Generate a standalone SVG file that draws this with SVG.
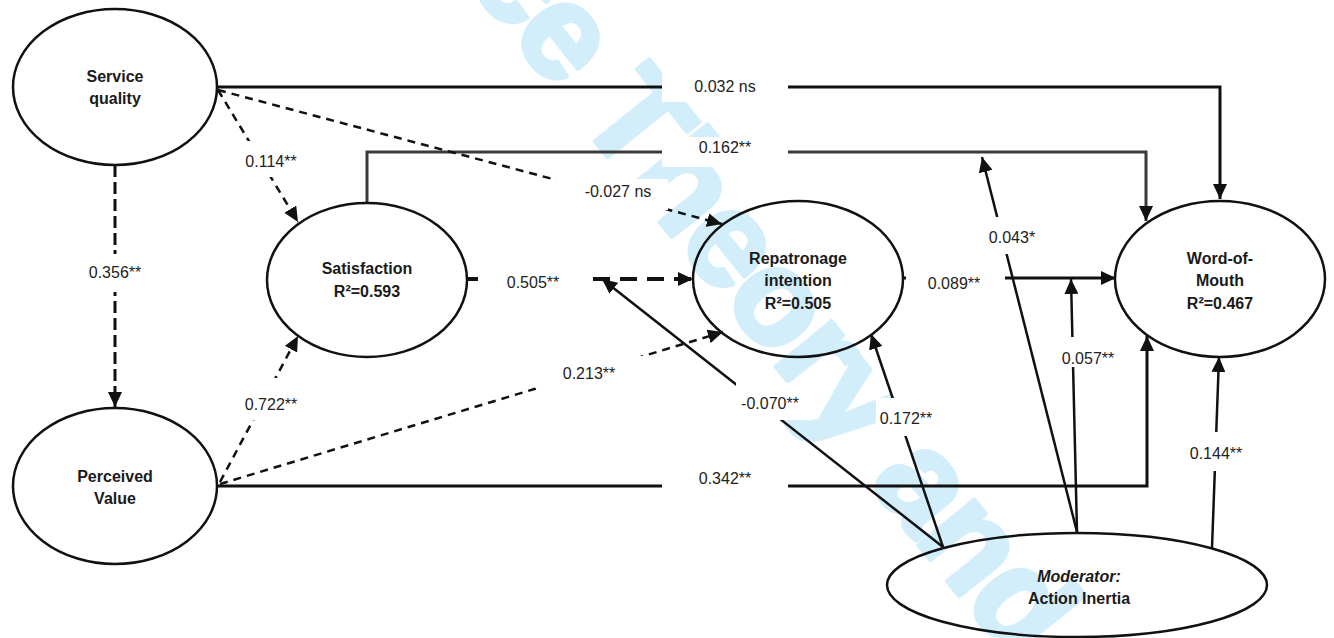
<svg xmlns="http://www.w3.org/2000/svg" width="1334" height="638" viewBox="0 0 1334 638">
<defs>
<style>
.wm{font-family:"Liberation Sans",Arial,sans-serif;font-weight:bold;font-size:135px;letter-spacing:-2.9px;fill:#d3eefb;stroke:#d3eefb;stroke-width:5;stroke-linejoin:round}
.node{fill:none;stroke:#111;stroke-width:2.5}
.nt{font-family:"Liberation Sans",Arial,sans-serif;font-size:16px;font-weight:bold;fill:#1a1a1a;text-anchor:middle}
.lb{font-family:"Liberation Sans",Arial,sans-serif;font-size:16px;fill:#222;text-anchor:middle}
.solid{fill:none;stroke:#111;stroke-width:3}
.gray{fill:none;stroke:#3a3a3a;stroke-width:3}
.mod{fill:none;stroke:#111;stroke-width:2.5}
.dsh{fill:none;stroke:#111;stroke-width:2.5;stroke-dasharray:8 6}
.dshv{fill:none;stroke:#111;stroke-width:3;stroke-dasharray:12 5}
.dshb{fill:none;stroke:#111;stroke-width:4;stroke-dasharray:17 10}
.box{fill:#fff;stroke:none}
</style>
<marker id="ah" markerUnits="userSpaceOnUse" markerWidth="16" markerHeight="14" refX="15" refY="7" orient="auto">
<path d="M0,0 L15,7 L0,14 z" fill="#111"/>
</marker>
</defs>

<text class="wm" transform="translate(-145,-783) rotate(51.3)">Journal of Service Theory and Practice</text>

<g id="connectors">
<path class="solid" d="M217,87 H1220 V199" marker-end="url(#ah)"/>
<path class="gray" d="M367,204 V152 H1146 V221" marker-end="url(#ah)"/>
<path class="dsh" d="M218,90 L298,222" marker-end="url(#ah)"/>
<path class="dsh" d="M218,90 L722,224" marker-end="url(#ah)"/>
<path class="dshv" d="M115,165 V407" marker-end="url(#ah)"/>
<path class="dsh" d="M220,482 L298,336" marker-end="url(#ah)"/>
<path class="dsh" d="M220,484 L723,332" marker-end="url(#ah)"/>
<path class="solid" d="M217,486 H1147 V336" marker-end="url(#ah)"/>
<path class="dshb" d="M467,279 H478 M593,279 H693" marker-end="url(#ah)"/>
<path class="solid" d="M903,278 H1116" marker-end="url(#ah)"/>
<path class="mod" d="M943,547 L602,279" marker-end="url(#ah)"/>
<path class="mod" d="M943,547 L871,334" marker-end="url(#ah)"/>
<path class="mod" d="M1077,532 L982,157" marker-end="url(#ah)"/>
<path class="mod" d="M1077,532 L1071,279" marker-end="url(#ah)"/>
<path class="mod" d="M1212,548 L1219,357" marker-end="url(#ah)"/>
<rect class="box" x="662" y="72" width="126" height="30"/>
<rect class="box" x="662" y="137" width="126" height="30"/>
<rect class="box" x="662" y="470" width="126" height="30"/>
<rect class="box" x="553" y="179" width="115" height="31"/>
<rect class="box" x="535" y="356" width="117" height="32"/>
<rect class="box" x="479" y="264" width="113" height="30"/>
<rect class="box" x="906" y="264" width="99" height="30"/>
<rect class="box" x="240" y="141" width="62" height="36"/>
<rect class="box" x="240" y="378" width="62" height="42"/>
<rect class="box" x="85" y="254" width="60" height="38"/>
<rect class="box" x="736" y="383" width="69" height="37"/>
<rect class="box" x="876" y="398" width="61" height="38"/>
<rect class="box" x="985" y="217" width="55" height="37"/>
<rect class="box" x="1058" y="337" width="61" height="30"/>
<rect class="box" x="1185" y="432" width="62" height="39"/>
<text class="lb" x="725" y="92">0.032 ns</text>
<text class="lb" x="725" y="153">0.162**</text>
<text class="lb" x="725" y="484">0.342**</text>
<text class="lb" x="618" y="197">-0.027 ns</text>
<text class="lb" x="589" y="379">0.213**</text>
<text class="lb" x="533" y="288">0.505**</text>
<text class="lb" x="954" y="289">0.089**</text>
<text class="lb" x="271" y="167">0.114**</text>
<text class="lb" x="271" y="410">0.722**</text>
<text class="lb" x="115" y="278">0.356**</text>
<text class="lb" x="770" y="409">-0.070**</text>
<text class="lb" x="906" y="424">0.172**</text>
<text class="lb" x="1012" y="243">0.043*</text>
<text class="lb" x="1088" y="364">0.057**</text>
<text class="lb" x="1216" y="459">0.144**</text>
</g>

<g id="service-quality">
<ellipse class="node" cx="115" cy="87" rx="102" ry="78"/>
<text class="nt" x="115" y="82">Service</text>
<text class="nt" x="115" y="104">quality</text>
</g>
<g id="perceived-value">
<ellipse class="node" cx="115" cy="486" rx="102" ry="78"/>
<text class="nt" x="115" y="482">Perceived</text>
<text class="nt" x="115" y="504">Value</text>
</g>
<g id="satisfaction">
<ellipse class="node" cx="367" cy="280" rx="100" ry="77"/>
<text class="nt" x="367" y="274">Satisfaction</text>
<text class="nt" x="367" y="297">R²=0.593</text>
</g>
<g id="repatronage">
<ellipse class="node" cx="798" cy="279" rx="105" ry="78"/>
<text class="nt" x="798" y="264">Repatronage</text>
<text class="nt" x="798" y="286">intention</text>
<text class="nt" x="798" y="309">R²=0.505</text>
</g>
<g id="word-of-mouth">
<ellipse class="node" cx="1220" cy="279" rx="105" ry="78"/>
<text class="nt" x="1220" y="264">Word-of-</text>
<text class="nt" x="1220" y="286">Mouth</text>
<text class="nt" x="1220" y="309">R²=0.467</text>
</g>
<g id="moderator">
<ellipse class="node" cx="1077" cy="585" rx="190" ry="52"/>
<text class="nt" x="1079" y="582" font-style="italic">Moderator:</text>
<text class="nt" x="1079" y="604">Action Inertia</text>
</g>
</svg>
